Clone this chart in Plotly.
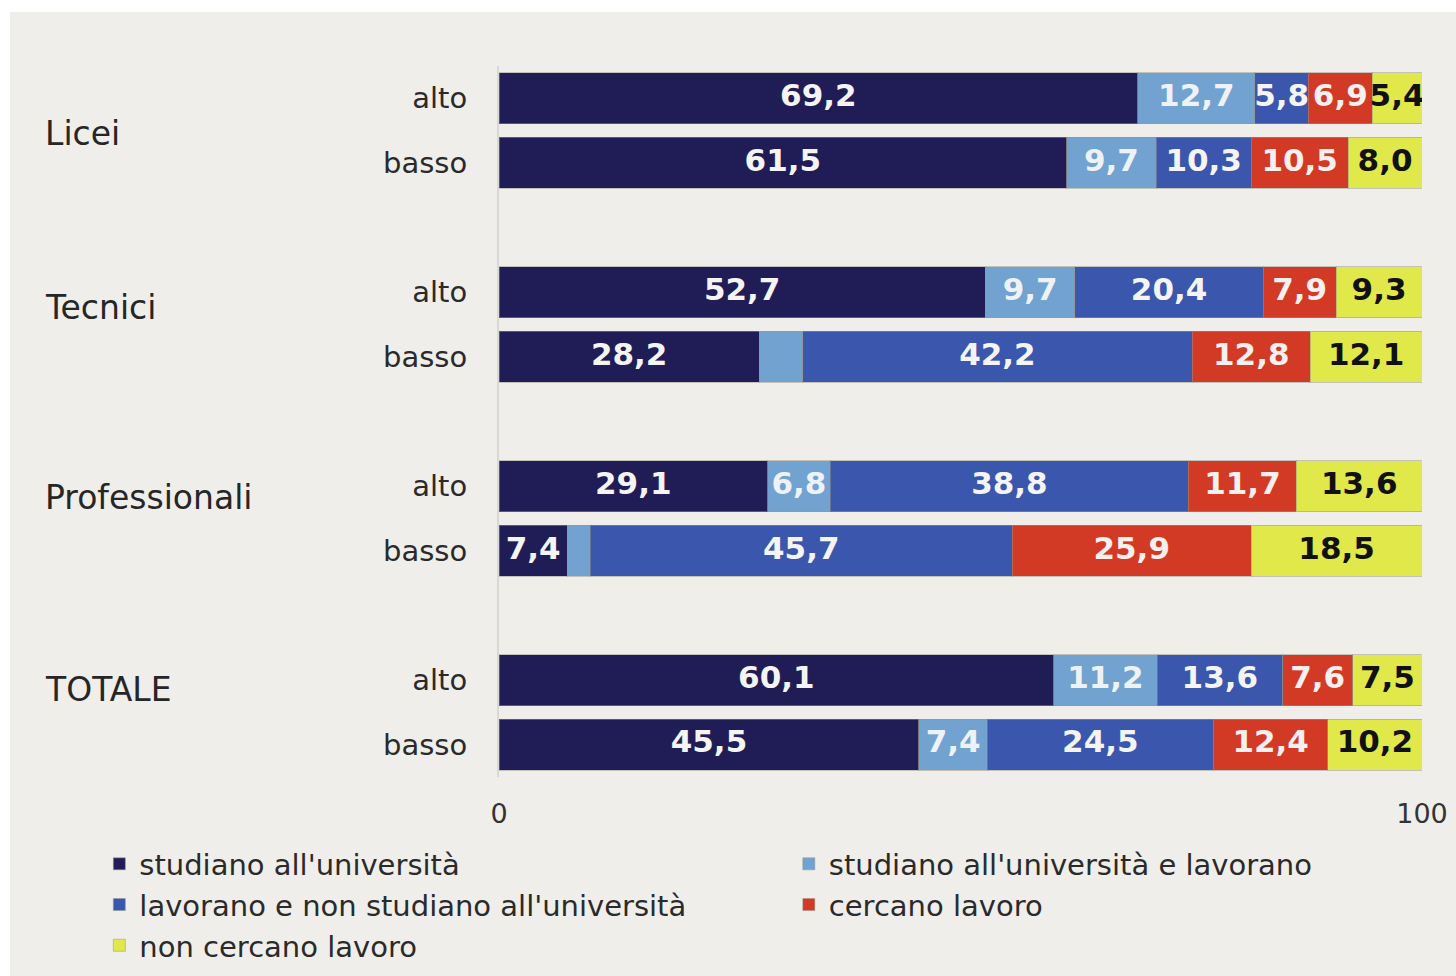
import plotly.graph_objects as go

# ---- data ----
groups = ["Licei", "Tecnici", "Professionali", "TOTALE"]
levels = ["alto", "basso"]
row_labels = ["alto", "basso", "alto", "basso", "alto", "basso", "alto", "basso"]
row_pos = [0, 1, 3, 4, 6, 7, 9, 10]

series_names = [
    "studiano all'università",
    "studiano all'università e lavorano",
    "lavorano e non studiano all'università",
    "cercano lavoro",
    "non cercano lavoro",
]
studiano = [69.2, 61.5, 52.7, 28.2, 29.1, 7.4, 60.1, 45.5]
studiano_lavorano = [12.7, 9.7, 9.7, 4.7, 6.8, 2.5, 11.2, 7.4]
lavorano = [5.8, 10.3, 20.4, 42.2, 38.8, 45.7, 13.6, 24.5]
cercano = [6.9, 10.5, 7.9, 12.8, 11.7, 25.9, 7.6, 12.4]
non_cercano = [5.4, 8.0, 9.3, 12.1, 13.6, 18.5, 7.5, 10.2]
series_values = [studiano, studiano_lavorano, lavorano, cercano, non_cercano]

colors = ["#201d56", "#72a2d0", "#3b56ad", "#d23a26", "#e0e84a"]
text_colors = ["#f4f4f4", "#eef2f6", "#f4f4f4", "#f8f0ee", "#111111"]
group_label_offset = [0.54, 0.24, 0.17, 0.14]

FONT = "DejaVu Sans"

fig = go.Figure()

legend_ids = ["legend", "legend2", "legend", "legend2", "legend"]

for i, (name, vals) in enumerate(zip(series_names, series_values)):
    fig.add_trace(go.Bar(
        name=name, x=vals, y=row_pos, orientation="h",
        marker=dict(color=colors[i], line=dict(color="rgba(150,150,140,0.5)", width=1)),
        width=0.79, legend=legend_ids[i], legendrank=i,
        hoverinfo="x+name",
    ))

# value labels centred in each segment
starts = [0.0] * len(row_pos)
for i, vals in enumerate(series_values):
    xs, txt = [], []
    for j, v in enumerate(vals):
        xs.append(starts[j] + v / 2)
        txt.append(f"{v:.1f}".replace(".", ",") if v >= 5 else "")
        starts[j] += v
    fig.add_trace(go.Scatter(
        x=xs, y=row_pos, mode="text", text=txt,
        textfont=dict(family=FONT, size=31, color=text_colors[i], weight="bold"),
        showlegend=False, hoverinfo="skip",
    ))

# group labels
for g, off in zip(groups, group_label_offset):
    idx = groups.index(g) * 2
    fig.add_annotation(
        text=g, xref="paper", x=-0.494, xanchor="left",
        yref="y", y=row_pos[idx] + off, yanchor="middle",
        showarrow=False, font=dict(family=FONT, size=33, color="#262626"),
    )

# white strips at the edges (scan border)
fig.add_shape(type="rect", xref="paper", yref="paper", x0=-0.6, x1=1.1,
              y0=1.076, y1=1.2, fillcolor="white", line_width=0, layer="below")
fig.add_shape(type="rect", xref="paper", yref="paper", x0=-0.6, x1=-0.5298,
              y0=-0.4, y1=1.2, fillcolor="white", line_width=0, layer="below")

legend_common = dict(orientation="v", bgcolor="rgba(0,0,0,0)", traceorder="normal",
                     font=dict(family=FONT, size=29, color="#2a2a2a"),
                     tracegroupgap=0, itemclick=False, yanchor="top", xanchor="left")

fig.update_layout(
    width=1456, height=976,
    margin=dict(l=499, r=34, t=66, b=199, autoexpand=False),
    paper_bgcolor="#efeeeb", plot_bgcolor="#efeeeb",
    barmode="stack",
    font=dict(family=FONT, color="#2a2a2a"),
    xaxis=dict(range=[0, 100], tickvals=[0, 100], ticktext=["0", "100"],
               showgrid=False, zeroline=False, showline=False, ticks="",
               tickfont=dict(size=27, color="#333333"), ticklabelstandoff=18,
               fixedrange=True),
    yaxis=dict(range=[10.5, -0.5], tickvals=row_pos, ticktext=row_labels,
               showgrid=False, zeroline=False, showline=True, linecolor="#d9d9d4",
               linewidth=2, ticks="", tickfont=dict(size=29, color="#2a2a2a"),
               ticklabelstandoff=24, fixedrange=True),
    legend=dict(x=-0.433, y=-0.0865, **legend_common),
    legend2=dict(x=0.314, y=-0.0865, **legend_common),
    showlegend=True,
)

fig.write_html("out.html", config={"displayModeBar": False},
               post_script="document.body.style.margin='0';")
